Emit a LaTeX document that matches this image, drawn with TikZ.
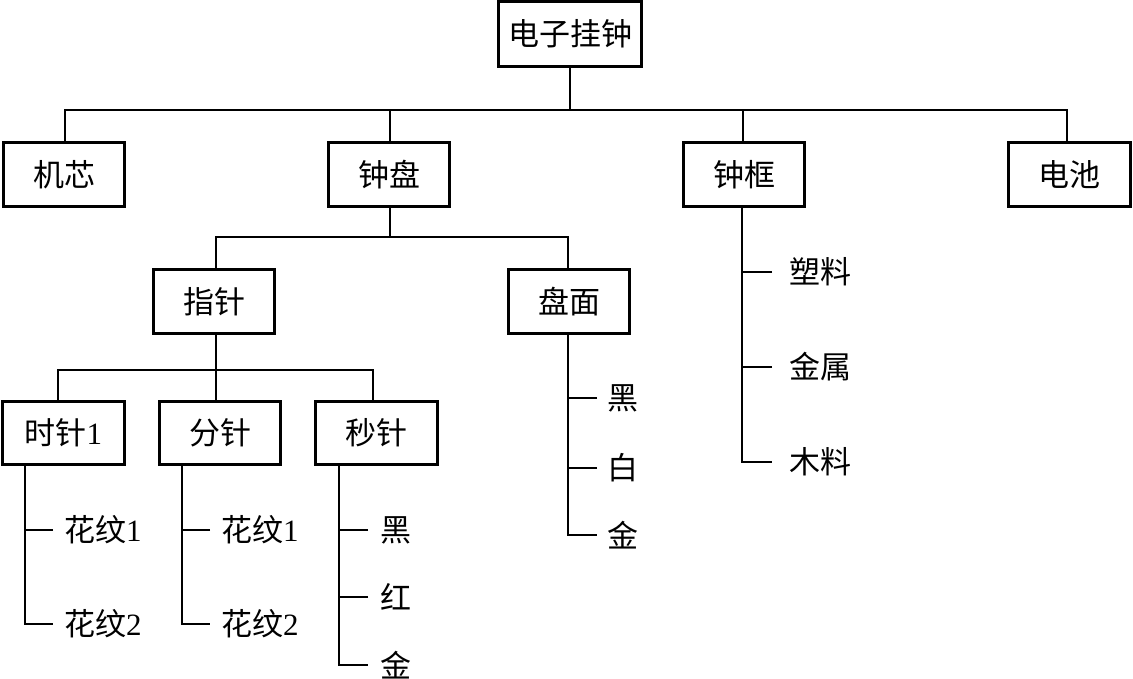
\documentclass[tikz,border=0pt]{standalone}
\usepackage{fontspec}
\setmainfont{Liberation Serif}
\newfontfamily\cjk{Noto Sans CJK SC}
\begin{document}
\begin{tikzpicture}[x=1pt,y=-1pt,
  box/.style={draw,line width=2.8pt,rectangle,minimum width=121.5pt,minimum height=63.5pt,inner sep=0pt,font=\fontsize{31}{36}\selectfont},
  leaf/.style={anchor=west,inner sep=0pt,font=\fontsize{31}{36}\selectfont},
  conn/.style={line width=1.8pt}]
\useasboundingbox (0,0) rectangle (1133,679);
\node[box,minimum width=143.5pt,minimum height=64.5pt] (top) at (570,34) {\cjk 电子挂钟};
\node[box] (jixin) at (64,174.5) {\cjk 机芯};
\node[box] (zhongpan) at (389,174.5) {\cjk 钟盘};
\node[box] (zhongkuang) at (744,174.5) {\cjk 钟框};
\node[box] (dianchi) at (1069.5,174.5) {\cjk 电池};
\node[box,minimum height=64.5pt] (zhizhen) at (214,301.5) {\cjk 指针};
\node[box,minimum height=64.5pt] (panmian) at (569,301.5) {\cjk 盘面};
\node[box] (shi) at (63.5,433) {{\cjk 时针}1};
\node[box] (fen) at (220,433) {\cjk 分针};
\node[box] (miao) at (376.5,433) {\cjk 秒针};
% level 1 connectors
\draw[conn] (top.south) -- ++(0,42) coordinate (b1);
\draw[conn] ([xshift=1pt]jixin.north) |- (b1);
\draw[conn] ([xshift=1pt]zhongpan.north) |- (b1);
\draw[conn] ([xshift=-1pt]zhongkuang.north) |- (b1);
\draw[conn] ([xshift=-2.5pt]dianchi.north) |- (b1);
% level 2
\draw[conn] ([xshift=1pt]zhongpan.south) -- ++(0,29) coordinate (b2);
\draw[conn] ([xshift=2pt]zhizhen.north) |- (b2);
\draw[conn] ([xshift=-1pt]panmian.north) |- (b2);
% level 3
\draw[conn] ([xshift=2pt]zhizhen.south) -- ++(0,35) coordinate (b3);
\draw[conn] ([xshift=-5.5pt]shi.north) |- (b3);
\draw[conn] (b3) -- (b3 |- fen.north);
\draw[conn] ([xshift=-3.5pt]miao.north) |- (b3);
% leaves of shi
\node[leaf] (s1) at (64,530) {{\cjk 花纹}1};
\node[leaf] (s2) at (64,624) {{\cjk 花纹}2};
\draw[conn] ([xshift=-38.5pt]shi.south) coordinate (sv) |- ([xshift=-11pt]s2.west);
\draw[conn] ([xshift=-11pt]s1.west) -- (s1.west -| sv);
% leaves of fen
\node[leaf] (f1) at (221,530) {{\cjk 花纹}1};
\node[leaf] (f2) at (221,624) {{\cjk 花纹}2};
\draw[conn] ([xshift=-38pt]fen.south) coordinate (fv) |- ([xshift=-11pt]f2.west);
\draw[conn] ([xshift=-11pt]f1.west) -- (f1.west -| fv);
% leaves of miao
\node[leaf] (m1) at (380,530) {\cjk 黑};
\node[leaf] (m2) at (380,597) {\cjk 红};
\node[leaf] (m3) at (380,665) {\cjk 金};
\draw[conn] ([xshift=-37.5pt]miao.south) coordinate (mv) |- ([xshift=-12pt]m3.west);
\draw[conn] ([xshift=-12pt]m1.west) -- (m1.west -| mv);
\draw[conn] ([xshift=-12pt]m2.west) -- (m2.west -| mv);
% leaves of panmian
\node[leaf] (p1) at (607,398) {\cjk 黑};
\node[leaf] (p2) at (607,468) {\cjk 白};
\node[leaf] (p3) at (607,535) {\cjk 金};
\draw[conn] ([xshift=-1pt]panmian.south) coordinate (pv) |- ([xshift=-10pt]p3.west);
\draw[conn] ([xshift=-10pt]p1.west) -- (p1.west -| pv);
\draw[conn] ([xshift=-10pt]p2.west) -- (p2.west -| pv);
% leaves of zhongkuang
\node[leaf] (k1) at (789,272) {\cjk 塑料};
\node[leaf] (k2) at (789,367) {\cjk 金属};
\node[leaf] (k3) at (789,462) {\cjk 木料};
\draw[conn] ([xshift=-2pt]zhongkuang.south) coordinate (kv) |- ([xshift=-17pt]k3.west);
\draw[conn] ([xshift=-17pt]k1.west) -- (k1.west -| kv);
\draw[conn] ([xshift=-17pt]k2.west) -- (k2.west -| kv);
\end{tikzpicture}
\end{document}
